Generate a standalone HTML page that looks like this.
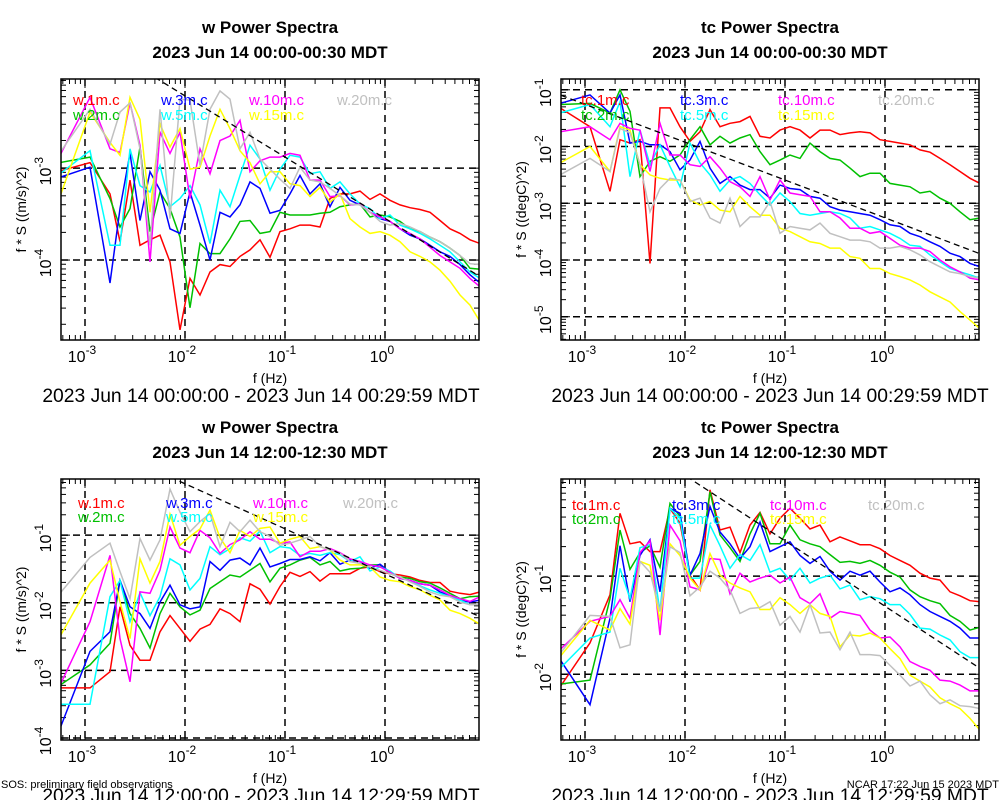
<!DOCTYPE html>
<html><head><meta charset="utf-8"><style>
body{margin:0;background:#fff}
svg{display:block;font-family:"Liberation Sans",sans-serif}
</style></head><body>
<svg id="fig" width="1000" height="800" viewBox="0 0 1000 800" xmlns="http://www.w3.org/2000/svg">
<rect width="1000" height="800" fill="#fff"/>
</svg>
<script>
// frequencies (log10 Hz)
const logF = [-3.25,-2.95,-2.75,-2.65,-2.55,-2.45,-2.35,-2.25,-2.15,-2.05,-1.95,-1.85,-1.75,-1.65,-1.55,-1.45,-1.35,-1.25,-1.15,-1.05,-0.95,-0.85,-0.75,-0.65,-0.55,-0.45,-0.35,-0.25,-0.15,-0.05,0.05,0.15,0.25,0.35,0.45,0.55,0.65,0.75,0.85,0.95];
const colors = ['#ff0000','#00c000','#0000ff','#00ffff','#ff00ff','#ffff00','#c0c0c0'];
const wLabels = ['w.1m.c','w.2m.c','w.3m.c','w.5m.c','w.10m.c','w.15m.c','w.20m.c'];
const tcLabels = ['tc.1m.c','tc.2m.c','tc.3m.c','tc.5m.c','tc.10m.c','tc.15m.c','tc.20m.c'];
// Panel 1: w 00:00 (log10 f*S)
const p1_1m = [-3.03,-2.94,-3.28,-3.80,-3.13,-3.84,-3.78,-3.73,-4.02,-4.76,-4.20,-4.38,-4.13,-4.05,-4.07,-3.96,-3.89,-3.78,-3.97,-3.69,-3.66,-3.62,-3.62,-3.64,-3.33,-3.28,-3.28,-3.25,-3.34,-3.28,-3.35,-3.40,-3.43,-3.45,-3.48,-3.57,-3.66,-3.71,-3.78,-3.82];
const p1_2m = [-2.94,-2.88,-3.33,-3.64,-3.44,-2.77,-3.69,-3.26,-3.44,-3.75,-4.52,-3.82,-3.93,-3.93,-3.77,-3.58,-3.57,-3.71,-3.69,-3.48,-3.51,-3.51,-3.51,-3.49,-3.48,-3.42,-3.40,-3.39,-3.53,-3.51,-3.53,-3.58,-3.66,-3.69,-3.75,-3.80,-3.87,-3.95,-4.09,-4.10];
const p1_3m = [-3.10,-2.99,-4.25,-3.44,-2.84,-3.57,-3.04,-3.24,-3.66,-3.71,-3.26,-3.62,-4.00,-3.48,-3.53,-3.40,-3.15,-3.22,-3.49,-3.46,-3.28,-3.08,-3.28,-3.17,-3.42,-3.21,-3.35,-3.40,-3.48,-3.55,-3.58,-3.66,-3.73,-3.77,-3.84,-3.91,-3.96,-4.05,-4.16,-4.25];
const p1_5m = [-3.06,-2.81,-3.84,-3.84,-2.79,-3.19,-3.26,-2.97,-3.42,-3.33,-3.19,-3.40,-3.82,-3.24,-3.42,-3.08,-2.75,-2.90,-3.24,-3.01,-2.86,-2.88,-3.06,-3.04,-3.22,-3.15,-3.28,-3.39,-3.44,-3.55,-3.51,-3.62,-3.66,-3.71,-3.77,-3.84,-3.91,-4.02,-4.13,-4.20];
const p1_10m = [-2.86,-2.23,-2.79,-2.83,-2.29,-2.75,-4.02,-2.61,-2.84,-2.61,-3.33,-2.79,-3.06,-2.70,-2.65,-2.48,-3.04,-2.92,-2.88,-2.88,-2.84,-2.86,-3.13,-3.13,-3.31,-3.30,-3.40,-3.39,-3.48,-3.53,-3.58,-3.66,-3.71,-3.77,-3.86,-3.95,-4.02,-4.09,-4.20,-4.29];
const p1_15m = [-3.31,-2.39,-2.72,-2.86,-2.23,-2.47,-3.48,-2.52,-2.77,-2.57,-3.01,-2.99,-2.65,-2.36,-2.57,-2.81,-2.94,-3.17,-3.04,-3.04,-3.17,-3.19,-3.31,-3.21,-3.37,-3.28,-3.55,-3.64,-3.71,-3.69,-3.73,-3.80,-3.91,-3.96,-4.02,-4.11,-4.23,-4.38,-4.49,-4.67];
const p1_20m = [-2.83,-2.36,-2.74,-2.39,-2.29,-2.79,-3.84,-2.36,-3.55,-2.25,-2.26,-2.97,-2.36,-2.16,-2.25,-2.79,-2.61,-2.90,-3.01,-3.12,-3.22,-2.99,-3.13,-3.15,-3.22,-3.30,-3.39,-3.40,-3.48,-3.58,-3.62,-3.60,-3.64,-3.69,-3.75,-3.80,-3.87,-3.95,-4.04,-4.05];
// Panel 2: tc 00:00
const p2_1m = [-1.32,-1.65,-2.79,-1.88,-1.94,-1.88,-4.06,-1.32,-1.32,-1.65,-1.91,-1.74,-1.35,-1.65,-1.59,-1.56,-1.47,-1.82,-1.85,-1.71,-1.65,-1.71,-1.85,-1.71,-1.71,-1.79,-1.76,-1.74,-1.76,-1.88,-1.91,-1.94,-1.97,-2.06,-2.10,-2.21,-2.32,-2.44,-2.56,-2.65];
const p2_2m = [-1.26,-1.24,-1.41,-1.00,-1.38,-2.53,-2.26,-2.18,-2.26,-2.15,-1.88,-1.65,-1.97,-1.82,-1.94,-1.85,-1.79,-2.09,-2.32,-2.24,-2.15,-2.21,-1.94,-2.09,-2.21,-2.24,-2.38,-2.53,-2.47,-2.47,-2.65,-2.68,-2.71,-2.82,-2.79,-2.91,-3.00,-3.15,-3.29,-3.26];
const p2_3m = [-1.24,-1.09,-1.41,-1.09,-1.94,-1.91,-1.97,-1.97,-2.09,-2.41,-2.24,-1.91,-2.38,-2.65,-2.53,-2.68,-2.76,-2.76,-2.91,-2.68,-2.74,-2.76,-2.88,-2.91,-3.06,-3.12,-3.15,-3.18,-3.21,-3.29,-3.38,-3.41,-3.53,-3.59,-3.68,-3.76,-3.88,-3.94,-4.06,-4.12];
const p2_5m = [-1.41,-1.26,-1.65,-1.21,-2.53,-1.71,-2.32,-1.97,-2.35,-2.71,-1.94,-2.29,-2.50,-2.79,-2.59,-2.53,-2.65,-2.85,-3.03,-2.82,-2.97,-3.18,-3.21,-3.18,-3.15,-3.18,-3.26,-3.44,-3.41,-3.47,-3.53,-3.62,-3.74,-3.76,-3.91,-4.03,-4.15,-4.21,-4.26,-4.32];
const p2_10m = [-1.74,-1.65,-1.88,-1.59,-1.68,-1.71,-2.44,-1.59,-2.15,-2.15,-2.32,-2.35,-2.18,-2.38,-2.62,-2.71,-2.88,-2.53,-2.94,-2.59,-2.82,-2.85,-2.88,-3.15,-3.15,-3.26,-3.44,-3.44,-3.53,-3.50,-3.62,-3.74,-3.79,-3.79,-3.85,-4.00,-4.12,-4.21,-4.32,-4.35];
const p2_15m = [-2.29,-2.00,-2.44,-1.65,-1.71,-2.32,-2.50,-2.56,-2.59,-2.59,-2.94,-3.03,-2.97,-3.12,-3.15,-2.88,-3.06,-3.21,-3.21,-3.44,-3.50,-3.59,-3.68,-3.71,-3.79,-3.79,-3.94,-3.97,-4.15,-4.15,-4.24,-4.29,-4.35,-4.44,-4.56,-4.65,-4.74,-4.91,-5.06,-5.21];
const p2_20m = [-2.50,-2.21,-2.44,-1.68,-1.76,-2.32,-3.15,-2.74,-2.56,-2.59,-2.97,-2.91,-3.26,-3.35,-2.91,-3.41,-3.24,-3.24,-2.97,-3.53,-3.41,-3.44,-3.47,-3.35,-3.53,-3.59,-3.65,-3.65,-3.68,-3.79,-3.79,-3.76,-3.82,-3.91,-4.03,-4.12,-4.21,-4.24,-4.29,-4.32];
// Panel 3: w 12:00
const p3_1m = [-3.26,-3.26,-3.02,-2.06,-2.63,-2.85,-2.85,-2.43,-2.19,-2.38,-2.57,-2.39,-2.32,-2.09,-2.16,-2.28,-1.72,-1.80,-2.02,-1.76,-1.55,-1.61,-1.54,-1.68,-1.57,-1.57,-1.57,-1.49,-1.47,-1.54,-1.57,-1.59,-1.62,-1.67,-1.70,-1.70,-1.83,-1.86,-1.88,-1.84];
const p3_2m = [-3.22,-2.92,-2.60,-1.67,-2.16,-2.38,-2.67,-2.16,-1.86,-2.06,-2.18,-2.11,-1.79,-1.69,-1.59,-1.62,-1.52,-1.42,-1.69,-1.49,-1.44,-1.37,-1.33,-1.44,-1.39,-1.53,-1.50,-1.49,-1.44,-1.44,-1.57,-1.62,-1.64,-1.69,-1.71,-1.78,-1.86,-1.94,-1.91,-1.90];
const p3_3m = [-3.86,-2.72,-2.43,-1.67,-2.06,-2.16,-2.38,-1.99,-1.74,-2.03,-2.09,-2.06,-1.39,-1.52,-1.37,-1.34,-1.44,-1.19,-1.47,-1.42,-1.36,-1.36,-1.32,-1.38,-1.26,-1.43,-1.37,-1.39,-1.49,-1.43,-1.55,-1.64,-1.67,-1.72,-1.74,-1.84,-1.90,-1.96,-1.99,-1.96];
const p3_5m = [-3.50,-3.50,-1.91,-1.67,-2.28,-1.85,-2.19,-1.91,-1.35,-1.44,-1.81,-1.64,-1.17,-1.29,-1.20,-1.04,-1.09,-0.94,-1.26,-1.17,-1.19,-1.30,-1.27,-1.30,-1.26,-1.29,-1.39,-1.32,-1.53,-1.47,-1.53,-1.64,-1.67,-1.75,-1.81,-1.86,-1.91,-1.96,-2.03,-2.03];
const p3_10m = [-3.22,-2.28,-1.30,-2.53,-3.17,-1.84,-1.86,-1.52,-0.88,-1.19,-1.26,-0.93,-1.04,-1.27,-1.14,-1.07,-0.95,-1.06,-1.06,-1.12,-1.10,-1.32,-1.24,-1.24,-1.20,-1.26,-1.35,-1.39,-1.44,-1.47,-1.55,-1.64,-1.67,-1.72,-1.74,-1.81,-1.89,-1.94,-1.98,-1.91];
const p3_15m = [-2.50,-1.71,-1.37,-1.99,-2.53,-1.35,-1.71,-1.39,-0.69,-1.15,-1.02,-0.91,-0.63,-1.04,-1.26,-0.93,-1.02,-0.90,-0.88,-1.12,-1.06,-1.02,-1.20,-1.17,-1.22,-1.37,-1.44,-1.44,-1.47,-1.62,-1.67,-1.69,-1.76,-1.81,-1.89,-1.96,-2.11,-2.16,-2.23,-2.32];
const p3_20m = [-1.86,-1.33,-1.12,-1.54,-1.94,-1.05,-1.37,-1.07,-0.32,-0.66,-0.95,-0.80,-0.68,-1.17,-0.81,-0.95,-0.78,-0.95,-1.02,-1.15,-1.12,-1.07,-1.02,-1.17,-1.22,-1.27,-1.39,-1.42,-1.47,-1.52,-1.57,-1.62,-1.69,-1.76,-1.84,-1.89,-1.91,-1.99,-2.03,-2.03];
// Panel 4: tc 12:00
const p4_1m = [-2.13,-1.68,-1.19,-0.36,-0.67,-0.65,-0.75,-0.75,-0.31,-0.46,-0.99,-1.14,-0.12,-0.53,-0.50,-0.76,-0.48,-0.35,-0.57,-0.41,-0.31,-0.41,-0.52,-0.48,-0.65,-0.60,-0.64,-0.68,-0.68,-0.72,-0.79,-0.84,-0.89,-0.97,-1.02,-1.04,-1.16,-1.20,-1.25,-1.26];
const p4_2m = [-2.10,-2.06,-1.23,-0.53,-0.93,-0.76,-0.69,-0.91,-0.26,-0.39,-0.99,-0.85,-0.14,-0.58,-0.71,-0.85,-0.57,-0.36,-0.67,-0.67,-0.48,-0.63,-0.67,-0.70,-0.78,-0.86,-0.85,-0.87,-0.84,-0.89,-0.96,-1.01,-1.14,-1.21,-1.25,-1.28,-1.40,-1.46,-1.55,-1.52];
const p4_3m = [-1.85,-2.31,-1.43,-0.69,-1.26,-0.79,-0.63,-1.16,-0.31,-0.36,-0.99,-0.77,-0.29,-0.55,-0.67,-0.82,-0.70,-0.45,-0.75,-0.70,-0.65,-0.79,-0.87,-0.80,-0.95,-1.04,-0.95,-0.99,-0.95,-1.06,-1.16,-1.12,-1.19,-1.29,-1.36,-1.41,-1.46,-1.53,-1.63,-1.63];
const p4_5m = [-1.94,-1.63,-1.57,-0.92,-1.23,-0.71,-0.68,-1.36,-0.31,-0.41,-1.02,-1.02,-0.48,-0.69,-0.92,-0.78,-0.84,-0.68,-0.96,-0.92,-1.04,-0.92,-1.07,-1.02,-0.99,-1.13,-1.09,-1.24,-1.21,-1.23,-1.29,-1.29,-1.39,-1.53,-1.54,-1.60,-1.65,-1.77,-1.83,-1.83];
const p4_10m = [-1.75,-1.46,-1.41,-1.24,-1.43,-0.76,-0.64,-1.60,-0.48,-0.64,-1.11,-1.14,-0.82,-0.83,-1.18,-0.97,-1.06,-1.02,-0.99,-1.07,-1.01,-1.22,-1.28,-1.18,-1.43,-1.36,-1.38,-1.40,-1.55,-1.63,-1.62,-1.72,-1.87,-1.92,-1.96,-2.06,-2.07,-2.11,-2.17,-2.17];
const p4_15m = [-1.82,-1.45,-1.55,-1.33,-1.49,-0.85,-0.89,-1.45,-0.67,-0.79,-1.02,-1.14,-0.77,-0.99,-1.07,-1.12,-1.16,-1.34,-1.34,-1.22,-1.29,-1.38,-1.29,-1.38,-1.41,-1.72,-1.60,-1.61,-1.58,-1.63,-1.74,-1.84,-2.01,-2.07,-2.13,-2.24,-2.30,-2.35,-2.45,-2.57];
const p4_20m = [-1.79,-1.40,-1.41,-1.73,-1.70,-0.85,-0.96,-1.36,-0.70,-0.76,-1.20,-1.11,-0.95,-1.02,-1.14,-1.38,-1.33,-1.32,-1.26,-1.50,-1.41,-1.57,-1.29,-1.58,-1.57,-1.75,-1.57,-1.80,-1.80,-1.81,-1.91,-2.01,-2.12,-2.07,-2.21,-2.30,-2.26,-2.32,-2.33,-2.35];
// -2/3 reference line anchor (logf, logS)
const refAnchors = [[-2.23,-2.06],[-3.25,-1.09],[-2.0,-0.24],[-1.93,-0.02]];
const refSlope = -2/3;
const xTicks = [-3,-2,-1,0];
const yTicks1 = [-3,-4], yTicks2 = [-1,-2,-3,-4,-5], yTicks3 = [-1,-2,-3,-4], yTicks4 = [-1,-2];

const NS = 'http://www.w3.org/2000/svg';
const svg = document.getElementById('fig');
function mk(tag, attrs, parent){ const e=document.createElementNS(NS,tag); for(const k in attrs) e.setAttribute(k,attrs[k]); (parent||svg).appendChild(e); return e; }

const panels = [
 {id:'w-top', L:61,T:79,R:479,B:340, y0:-4.87,y1:-2.03, series:[p1_1m,p1_2m,p1_3m,p1_5m,p1_10m,p1_15m,p1_20m], labels:wLabels, yt:yTicks1, t1:'w Power Spectra', t2:'2023 Jun 14 00:00-00:30 MDT', ylab:'f * S ((m/s)^2)', date:'2023 Jun 14 00:00:00 - 2023 Jun 14 00:29:59 MDT', dx:-9, legX:[73,161,249,337], legY:[105,120]},
 {id:'tc-top', L:561,T:79,R:979,B:340, y0:-5.41,y1:-0.81, series:[p2_1m,p2_2m,p2_3m,p2_5m,p2_10m,p2_15m,p2_20m], labels:tcLabels, yt:yTicks2, t1:'tc Power Spectra', t2:'2023 Jun 14 00:00-00:30 MDT', ylab:'f * S ((degC)^2)', date:'2023 Jun 14 00:00:00 - 2023 Jun 14 00:29:59 MDT', dx:0, legX:[581,680,778,878], legY:[105,120]},
 {id:'w-bottom', L:61,T:479,R:479,B:740, y0:-4.03,y1:-0.17, series:[p3_1m,p3_2m,p3_3m,p3_5m,p3_10m,p3_15m,p3_20m], labels:wLabels, yt:yTicks3, t1:'w Power Spectra', t2:'2023 Jun 14 12:00-12:30 MDT', ylab:'f * S ((m/s)^2)', date:'2023 Jun 14 12:00:00 - 2023 Jun 14 12:29:59 MDT', dx:-9, legX:[78,166,253,343], legY:[508,522]},
 {id:'tc-bottom', L:561,T:479,R:979,B:740, y0:-2.67,y1:-0.01, series:[p4_1m,p4_2m,p4_3m,p4_5m,p4_10m,p4_15m,p4_20m], labels:tcLabels, yt:yTicks4, t1:'tc Power Spectra', t2:'2023 Jun 14 12:00-12:30 MDT', ylab:'f * S ((degC)^2)', date:'2023 Jun 14 12:00:00 - 2023 Jun 14 12:29:59 MDT', dx:0, legX:[572,672,770,868], legY:[510,524]}
];

panels.forEach((p,pi)=>{
  const x0=-3.24, x1=0.94;
  const X = v => p.L + (v-x0)/(x1-x0)*(p.R-p.L);
  const Y = v => p.B - (v-p.y0)/(p.y1-p.y0)*(p.B-p.T);
  const g = mk('g',{});
  
  
  const cp = mk('clipPath',{id:'clip'+pi},g);
  mk('rect',{x:p.L,y:p.T,width:p.R-p.L,height:p.B-p.T},cp);
  const cx=(p.L+p.R)/2;
  const t1=mk('text',{x:cx,y:p.T-46,'text-anchor':'middle','font-size':17,'font-weight':'bold'},g); t1.textContent=p.t1;
   
  const t2=mk('text',{x:cx,y:p.T-21,'text-anchor':'middle','font-size':17,'font-weight':'bold'},g); t2.textContent=p.t2;
   
  // grid
  xTicks.forEach(v=>{ const l=mk('line',{x1:X(v),x2:X(v),y1:p.T,y2:p.B,stroke:'#000','stroke-width':1.5,'stroke-dasharray':'7,5'},g);
     
    const t=mk('text',{x:X(v)-3,y:p.B+22,'text-anchor':'middle','font-size':16},g);
     
    t.appendChild(document.createTextNode('10'));
    const s=mk('tspan',{dy:-8,'font-size':12},t); s.textContent = v===0?'0':String(v);
  });
  p.yt.forEach(v=>{ const l=mk('line',{x1:p.L,x2:p.R,y1:Y(v),y2:Y(v),stroke:'#000','stroke-width':1.5,'stroke-dasharray':'7,5'},g);
     
    const t=mk('text',{x:0,y:0,'text-anchor':'middle','font-size':16,transform:`translate(${p.L-10},${Y(v)+3}) rotate(-90)`},g);
     
    t.appendChild(document.createTextNode('10'));
    const s=mk('tspan',{dy:-8,'font-size':12},t); s.textContent=String(v);
  });
  // minor/major ticks
  for(let d=-4; d<=1; d++) for(let m=1;m<10;m++){ const v=d+Math.log10(m); if(v<x0||v>x1) continue; const len=m===1?9:5;
    mk('line',{x1:X(v),x2:X(v),y1:p.B,y2:p.B-len,stroke:'#000','stroke-width':1},g);
    mk('line',{x1:X(v),x2:X(v),y1:p.T,y2:p.T+len,stroke:'#000','stroke-width':1},g); }
  for(let d=-6; d<=1; d++) for(let m=1;m<10;m++){ const v=d+Math.log10(m); if(v<p.y0||v>p.y1) continue; const len=m===1?9:5;
    mk('line',{x1:p.L,x2:p.L+len,y1:Y(v),y2:Y(v),stroke:'#000','stroke-width':1},g);
    mk('line',{x1:p.R,x2:p.R-len,y1:Y(v),y2:Y(v),stroke:'#000','stroke-width':1},g); }
  // series
  const sg = mk('g',{'clip-path':`url(#clip${pi})`},g);
  p.series.forEach((arr,si)=>{
    const d = arr.map((v,i)=>(i?'L':'M')+X(logF[i]).toFixed(1)+' '+Y(v).toFixed(1)).join(' ');
    const path=mk('path',{d:d,fill:'none',stroke:colors[si],'stroke-width':1.5},sg);
    
    
  });
  // reference line
  const a=refAnchors[pi];
  const rl=mk('line',{x1:X(x0),y1:Y(a[1]+refSlope*(x0-a[0])),x2:X(x1),y2:Y(a[1]+refSlope*(x1-a[0])),stroke:'#000','stroke-width':1.3,'stroke-dasharray':'6,4'},sg);
   
  // legend
  p.labels.forEach((lab,si)=>{
    const t=mk('text',{x:p.legX[si>>1],y:p.legY[si&1],'font-size':15,fill:colors[si]},g); t.textContent=lab;
     
  });
  mk('rect',{x:p.L,y:p.T,width:p.R-p.L,height:p.B-p.T,fill:'none',stroke:'#000','stroke-width':1.5},g);
  const xl=mk('text',{x:cx,y:p.B+43,'text-anchor':'middle','font-size':14},g); xl.textContent='f (Hz)';
   
  const yl=mk('text',{x:0,y:0,'text-anchor':'middle','font-size':14,transform:`translate(${p.L-35},${(p.T+p.B)/2}) rotate(-90)`},g); yl.textContent=p.ylab;
   
  const dt=mk('text',{x:cx+p.dx,y:p.B+62,'text-anchor':'middle','font-size':19.3},g); dt.textContent=p.date;
   
});
const f1=mk('text',{x:1,y:788,'font-size':11}); f1.textContent='SOS: preliminary field observations';
 
const f2=mk('text',{x:999,y:788,'font-size':11,'text-anchor':'end'}); f2.textContent='NCAR 17:22 Jun 15 2023 MDT';
 
</script>
</body></html>
